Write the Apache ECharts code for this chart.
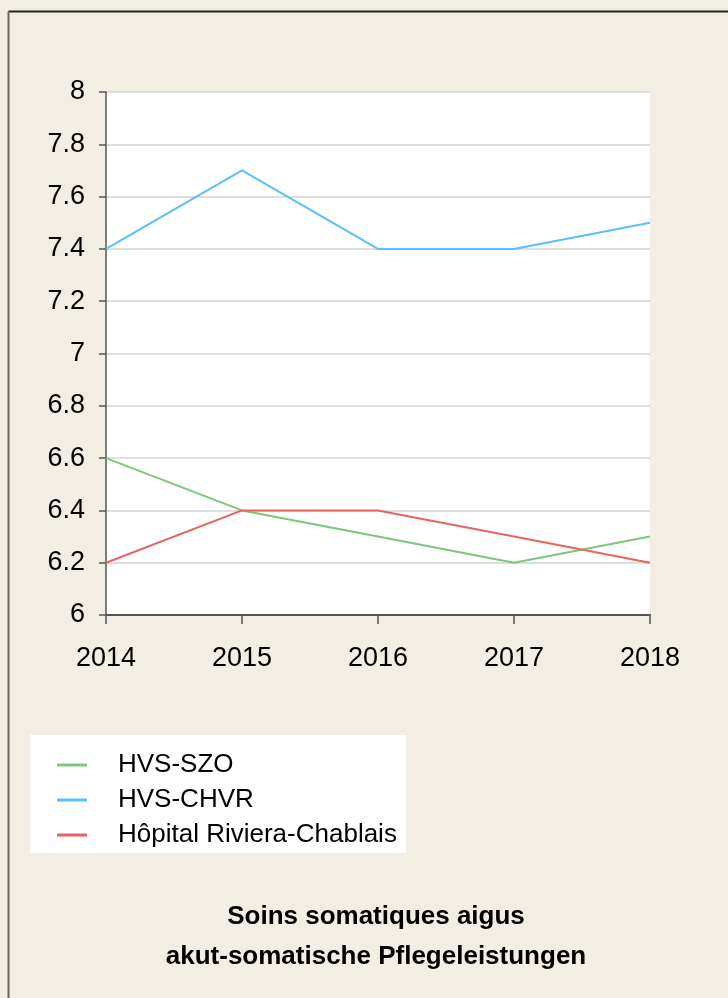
<!DOCTYPE html>
<html>
<head>
<meta charset="utf-8">
<script src="https://cdn.jsdelivr.net/npm/echarts@6/dist/echarts.min.js"></script>
<style>
  html, body { margin: 0; padding: 0; background: #f2eee4; }
  #main { width: 728px; height: 998px; }
</style>
</head>
<body>
<div id="main"></div>
<script>
// années et valeurs
const years = ['2014', '2015', '2016', '2017', '2018'];
const szo = [6.6, 6.4, 6.3, 6.2, 6.3];
const chvr = [7.4, 7.7, 7.4, 7.4, 7.5];
const riviera = [6.2, 6.4, 6.4, 6.3, 6.2];
const seriesNames = ['HVS-SZO', 'HVS-CHVR', 'Hôpital Riviera-Chablais'];
const colors = ['#7cc77c', '#5bbfff', '#ea6262'];

const font = '"Liberation Sans Narrow", "Liberation Sans", Arial, sans-serif';

let myChart = echarts.init(document.getElementById('main'));

function lineSeries(name, data, color) {
    return {
        name: name,
        type: 'line',
        data: data,
        symbol: 'none',
        lineStyle: { color: color, width: 2 },
        itemStyle: { color: color },
        animation: false
    };
}

let option = {
    backgroundColor: '#f2eee4',
    textStyle: { fontFamily: font },
    graphic: [
        //cadre
        { type: 'line', shape: { x1: 8.5, y1: 11.5, x2: 740, y2: 11.5 }, style: { stroke: '#222', lineWidth: 2 }, silent: true },
        { type: 'line', shape: { x1: 8.5, y1: 11.5, x2: 8.5, y2: 1000 }, style: { stroke: '#666', lineWidth: 2 }, silent: true },
        //fond de la légende
        { type: 'rect', shape: { x: 30, y: 735, width: 376, height: 118 }, style: { fill: '#ffffff' }, silent: true, z: 0 }
    ],
    title: {
        text: 'Soins somatiques aigus\nakut-somatische Pflegeleistungen',
        left: 371,
        top: 892,
        textAlign: 'center',
        textStyle: {
            fontFamily: font,
            fontWeight: 'bold',
            fontSize: 26,
            lineHeight: 40,
            color: '#000'
        }
    },
    legend: {
        orient: 'vertical',
        left: 57,
        top: 750,
        padding: 0,
        icon: 'rect',
        itemWidth: 30,
        itemHeight: 3,
        itemGap: 5,
        z: 5,
        data: seriesNames,
        textStyle: {
            fontFamily: font,
            fontSize: 26,
            lineHeight: 30,
            color: '#000',
            padding: [0, 0, 0, 26]
        }
    },
    grid: {
        left: 106,
        right: 78,
        top: 92,
        bottom: 383,
        show: true,
        backgroundColor: '#ffffff',
        borderWidth: 0,
        containLabel: false
    },
    xAxis: {
        type: 'category',
        data: years,
        boundaryGap: false,
        axisLine: { lineStyle: { color: '#555', width: 2 } },
        axisTick: { show: true, length: 9, lineStyle: { color: '#555', width: 1.5 } },
        axisLabel: { fontFamily: font, fontSize: 27, color: '#000', margin: 30 },
        splitLine: { show: false }
    },
    yAxis: {
        type: 'value',
        min: 6,
        max: 8,
        interval: 0.2,
        axisLine: { show: true, lineStyle: { color: '#555', width: 1.5 } },
        axisTick: { show: true, length: 7, lineStyle: { color: '#555', width: 1.5 } },
        axisLabel: { fontFamily: font, fontSize: 27, color: '#000', margin: 21 },
        splitLine: { show: true, lineStyle: { color: '#dedede', width: 2 } }
    },
    series: [
        lineSeries(seriesNames[0], szo, colors[0]),
        lineSeries(seriesNames[1], chvr, colors[1]),
        lineSeries(seriesNames[2], riviera, colors[2])
    ]
};
myChart.setOption(option);
</script>
</body>
</html>
